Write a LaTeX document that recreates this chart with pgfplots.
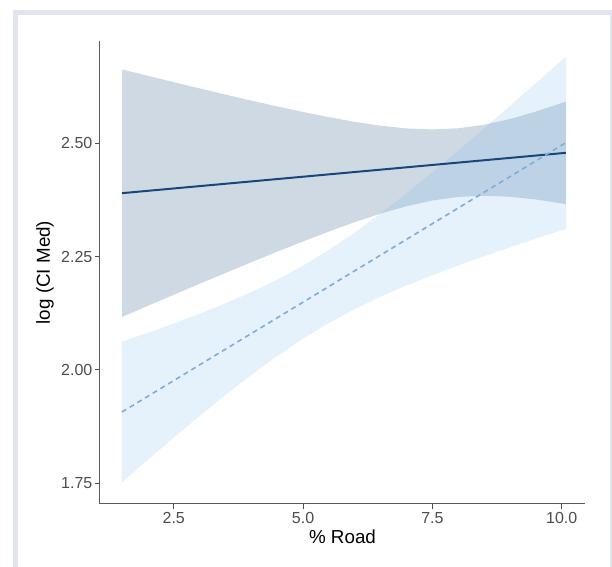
\documentclass[border=0pt]{standalone}
\usepackage{fontspec}
\setmainfont{Liberation Sans}
\usepackage{pgfplots}
\pgfplotsset{compat=1.18}
\usepgfplotslibrary{fillbetween}

\definecolor{frameclr}{HTML}{E1E5F2}
\definecolor{navyline}{HTML}{17467A}
\definecolor{navyband}{HTML}{0A4275}
\definecolor{lightline}{HTML}{7FADD8}
\definecolor{lightband}{HTML}{7DB9EB}
\definecolor{ticktxt}{HTML}{4D4D4D}

\begin{document}
\begin{tikzpicture}
\draw[frameclr, line width=2.5pt] (-42.25pt,-40pt) rectangle (256.25pt,245.75pt);

\begin{axis}[
  scale only axis,
  width=242.5pt, height=231.5pt,
  xmin=1.0748, xmax=10.45,
  ymin=1.7043, ymax=2.7257,
  axis x line*=bottom, axis y line*=left,
  axis line style={black!65, line width=0.5pt},
  xtick={2.5,5,7.5,10},
  ytick={1.75,2,2.25,2.5},
  xticklabels={2.5,5.0,7.5,10.0},
  yticklabels={1.75,2.00,2.25,2.50},
  tick align=outside,
  major tick length=2.5pt,
  tick style={black!70, line width=0.5pt},
  tick label style={font=\fontsize{8}{9}\selectfont, text=ticktxt},
  xticklabel style={yshift=1.8pt},
  yticklabel style={xshift=2.2pt},
  xlabel={\% Road},
  ylabel={log (CI Med)},
  label style={font=\fontsize{9.4}{11}\selectfont},
  xlabel style={at={(axis description cs:0.5,-0.0864)}, anchor=base},
  ylabel style={at={(axis description cs:-0.1031,0.5)}, anchor=base},
]

% dark band (solid line) confidence limits
\addplot[name path=du, draw=none] coordinates {
  (1.5,2.663) (2.0,2.6489) (2.5,2.6349) (3.0,2.6211) (3.5,2.6074) (4.0,2.5942)
  (4.5,2.5813) (5.0,2.5691) (5.5,2.5576) (6.0,2.5473) (6.5,2.5388) (7.0,2.5328)
  (7.5,2.5306) (8.0,2.5331) (8.5,2.5410) (9.0,2.5536) (9.5,2.5699) (10.08,2.5921)
};
\addplot[name path=dl, draw=none] coordinates {
  (1.5,2.117) (2.0,2.1415) (2.5,2.1659) (3.0,2.1901) (3.5,2.2140) (4.0,2.2376)
  (4.5,2.2609) (5.0,2.2835) (5.5,2.3054) (6.0,2.3261) (6.5,2.3450) (7.0,2.3612)
  (7.5,2.3738) (8.0,2.3817) (8.5,2.3842) (9.0,2.3820) (9.5,2.3761) (10.08,2.3659)
};
\addplot[fill=navyband, fill opacity=0.2, draw=none] fill between[of=du and dl];

% light band (dashed line) confidence limits
\addplot[name path=lu, draw=none] coordinates {
  (1.5,2.0623) (2.0,2.0820) (2.5,2.1024) (3.0,2.1238) (3.5,2.1468) (4.0,2.1716)
  (4.5,2.1991) (5.0,2.2300) (5.5,2.2648) (6.0,2.3033) (6.5,2.3453) (7.0,2.3898)
  (7.5,2.4363) (8.0,2.4841) (8.5,2.5329) (9.0,2.5825) (9.5,2.6327) (10.08,2.6913)
};
\addplot[name path=ll, draw=none] coordinates {
  (1.5,1.7523) (2.0,1.8019) (2.5,1.8506) (3.0,1.8984) (3.5,1.9448) (4.0,1.9892)
  (4.5,2.0309) (5.0,2.0692) (5.5,2.1036) (6.0,2.1343) (6.5,2.1617) (7.0,2.1864)
  (7.5,2.2091) (8.0,2.2305) (8.5,2.2509) (9.0,2.2705) (9.5,2.2897) (10.08,2.3113)
};
\addplot[fill=lightband, fill opacity=0.2, draw=none] fill between[of=lu and ll];

% fitted lines
\addplot[navyline, line width=1pt] coordinates {(1.5,2.390) (10.08,2.479)};
\addplot[lightline, line width=0.8pt, dash pattern=on 2.5pt off 2pt] coordinates {(1.5,1.9073) (10.08,2.5013)};

\end{axis}
\pgfresetboundingbox
\useasboundingbox (-50pt,-31.5pt) rectangle (256pt,252pt);
\end{tikzpicture}
\end{document}
